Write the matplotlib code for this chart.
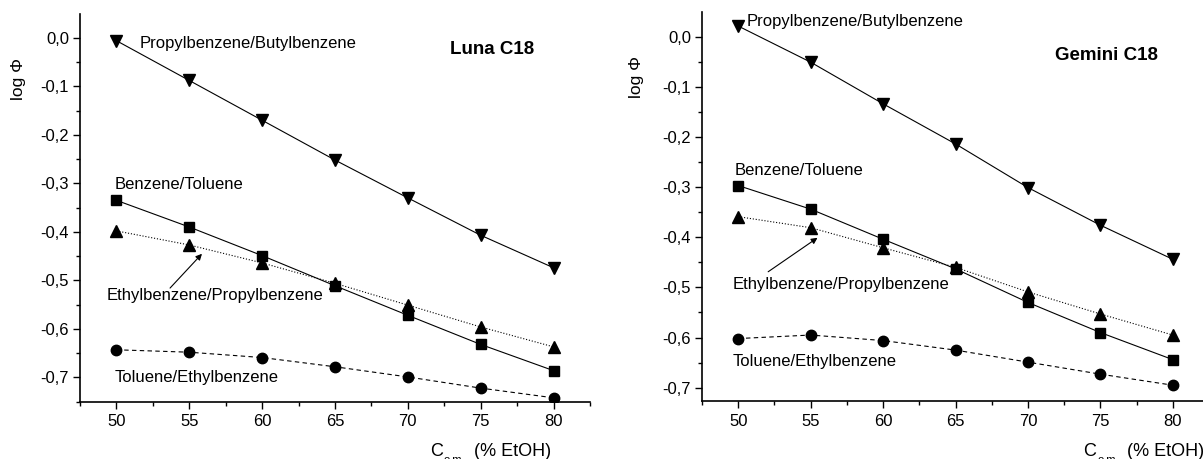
import numpy as np
import matplotlib.pyplot as plt
from matplotlib.ticker import MultipleLocator, FuncFormatter

plt.rcParams['font.family'] = ['Liberation Sans', 'DejaVu Sans']

# composition of the mobile phase (% EtOH)
eth = [50, 55, 60, 65, 70, 75, 80]

# Luna C18
luna_pb = [-0.006, -0.088, -0.170, -0.252, -0.330, -0.407, -0.474]
luna_bt = [-0.335, -0.390, -0.449, -0.511, -0.572, -0.632, -0.686]
luna_ep = [-0.398, -0.427, -0.464, -0.506, -0.551, -0.596, -0.637]
luna_te = [-0.643, -0.648, -0.659, -0.678, -0.699, -0.722, -0.742]

# Gemini C18
gem_pb = [0.021, -0.051, -0.134, -0.214, -0.301, -0.376, -0.444]
gem_bt = [-0.297, -0.344, -0.404, -0.463, -0.530, -0.590, -0.644]
gem_ep = [-0.359, -0.381, -0.421, -0.460, -0.509, -0.553, -0.595]
gem_te = [-0.602, -0.595, -0.606, -0.625, -0.649, -0.673, -0.695]

W, H = 1203, 459
fig = plt.figure(figsize=(W/100, H/100), dpi=100)

def comma(v, pos):
    s = '%.1f' % v
    if s == '-0.0':
        s = '0.0'
    return s.replace('.', ',')

def panel(rect, pb, bt, ep, te, ylim):
    ax = fig.add_axes(rect)
    ax.plot(eth, pb, 'k-', marker='v', ms=8, lw=0.8)
    ax.plot(eth, bt, 'k-', marker='s', ms=6.5, lw=0.8)
    ax.plot(eth, ep, 'k:', marker='^', ms=8, lw=0.8)
    ax.plot(eth, te, 'k--', marker='o', ms=7.5, lw=0.8, dashes=(4, 3))
    ax.set_xlim(47.5, 82.5)
    ax.set_ylim(*ylim)
    ax.spines['top'].set_visible(False)
    ax.spines['right'].set_visible(False)
    ax.xaxis.set_major_locator(MultipleLocator(5))
    ax.xaxis.set_minor_locator(MultipleLocator(2.5))
    ax.yaxis.set_major_locator(MultipleLocator(0.1))
    ax.yaxis.set_minor_locator(MultipleLocator(0.05))
    ax.yaxis.set_major_formatter(FuncFormatter(comma))
    ax.tick_params(which='major', length=5, width=1, labelsize=12, pad=3)
    ax.tick_params(axis='x', which='major', pad=4)
    ax.tick_params(which='minor', length=3, width=1)
    for s in ('left', 'bottom'):
        ax.spines[s].set_linewidth(1.2)
    return ax

ax1 = panel([80/W, 1-401.7/H, 510/W, 387.7/H], luna_pb, luna_bt, luna_ep, luna_te, (-0.75, 0.049))
ax2 = panel([702/W, 1-401/H, 507/W, 389/H], gem_pb, gem_bt, gem_ep, gem_te, (-0.7265, 0.049))

fs = 12
ax1.text(51.6, -0.012, 'Propylbenzene/Butylbenzene', fontsize=fs, va='center')
ax1.text(72.9, -0.025, 'Luna C18', fontsize=13.5, fontweight='bold', va='center')
ax1.text(49.9, -0.302, 'Benzene/Toluene', fontsize=fs, va='center')
ax1.text(49.3, -0.532, 'Ethylbenzene/Propylbenzene', fontsize=fs, va='center')
ax1.text(49.85, -0.700, 'Toluene/Ethylbenzene', fontsize=fs, va='center')
ax1.annotate('', xy=(56.0, -0.441), xytext=(53.55, -0.52),
             arrowprops=dict(arrowstyle='-|>', color='k', lw=0.8, mutation_scale=9))

ax2.text(50.55, 0.030, 'Propylbenzene/Butylbenzene', fontsize=fs, va='center')
ax2.text(71.9, -0.037, 'Gemini C18', fontsize=13.5, fontweight='bold', va='center')
ax2.text(49.73, -0.266, 'Benzene/Toluene', fontsize=fs, va='center')
ax2.text(49.6, -0.494, 'Ethylbenzene/Propylbenzene', fontsize=fs, va='center')
ax2.text(49.6, -0.648, 'Toluene/Ethylbenzene', fontsize=fs, va='center')
ax2.annotate('', xy=(55.63, -0.398), xytext=(51.91, -0.472),
             arrowprops=dict(arrowstyle='-|>', color='k', lw=0.8, mutation_scale=9))

# y labels
fig.text(19/W, 1-79/H, 'log Φ', rotation=90, fontsize=12.5, ha='center', va='center')
fig.text(636/W, 1-77/H, 'log Φ', rotation=90, fontsize=12.5, ha='center', va='center')

# x labels, bottom partly cut like the original
for x0 in (430, 1083):
    fig.text(x0/W, 1-451/H, 'C', fontsize=13, va='center')
    fig.text((x0+14)/W, 1-460/H, 'o.m', fontsize=8, va='center')
    fig.text((x0+44)/W, 1-451/H, '(% EtOH)', fontsize=13, va='center')

fig.savefig('out.png', dpi=100)
